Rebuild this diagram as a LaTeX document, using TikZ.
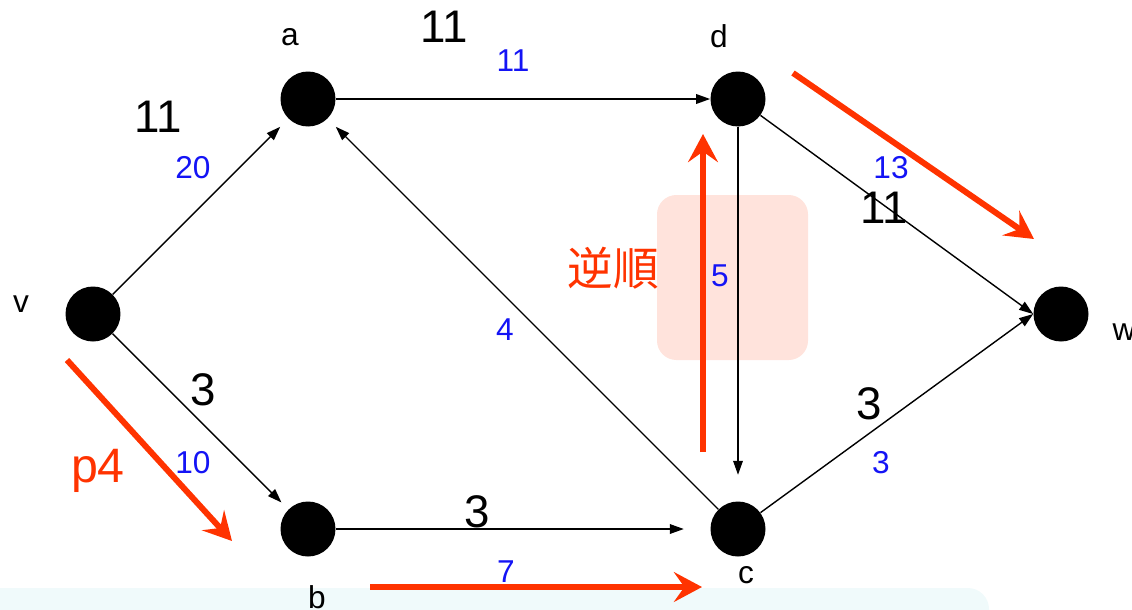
\documentclass[tikz,border=0pt]{standalone}
\usepackage{fontspec}
\setmainfont{Liberation Sans}
\newfontfamily\cjkfont{Noto Sans CJK JP}
\usepackage{xcolor}
\usetikzlibrary{arrows.meta}

\definecolor{augred}{HTML}{FF3300}
\definecolor{capblue}{HTML}{1414F5}
\definecolor{boxpink}{HTML}{FFE3DC}
\definecolor{panelblue}{HTML}{F0FAFB}

\begin{document}
\begin{tikzpicture}[
    x=0.02cm, y=-0.02cm,
    vertex/.style={circle, fill=black, minimum size=1.1cm, inner sep=0pt},
    vname/.style={font=\fontsize{18}{20}\selectfont, inner sep=0pt},
    capnum/.style={font=\fontsize{18}{20}\selectfont, text=capblue, inner sep=0pt},
    flownum/.style={font=\fontsize{26}{30}\selectfont, inner sep=0pt},
    link/.style={-{Triangle[length=8pt, width=5.5pt]}, line width=0.8pt},
    augarr/.style={-{Stealth[length=16pt, width=17pt, inset=6pt]}, line width=3.4pt, color=augred},
    note/.style={text=augred, inner sep=0pt},
]
\useasboundingbox (0,0) rectangle (1132,609);

% ── Backgrounds ───────────────────────────────────────
\fill[panelblue, rounded corners=12pt] (-30,588) rectangle (989,640);
\fill[boxpink, rounded corners=11pt] (657,195) rectangle (808,360);

% ── Vertices ──────────────────────────────────────────
\node[vertex] (v) at (93,314)   {};
\node[vertex] (a) at (308,99)   {};
\node[vertex] (d) at (738,99)   {};
\node[vertex] (w) at (1061,314) {};
\node[vertex] (b) at (308,529)  {};
\node[vertex] (c) at (738,529)  {};

\node[vname] (vlbl) at (21,304)   {v};
\node[vname] (albl) at (290,37)   {a};
\node[vname] (dlbl) at (719,36)   {d};
\node[vname] (wlbl) at (1124,332) {w};
\node[vname] (blbl) at (317,597)  {b};
\node[vname] (clbl) at (746,575)  {c};

% ── Edges ─────────────────────────────────────────────
\draw[link, shorten >=6.5pt] (v) -- (a);
\draw[link, shorten >=5.5pt] (v) -- (b);
\draw[link]                  (a) -- (d);
\draw[link]                  (d) -- (w.west);
\draw[link, shorten >=15pt]  (d) -- (c);
\draw[link, shorten >=6.5pt] (c) -- (a);
\draw[link, shorten >=15pt]  (b) -- (c);
\draw[link]                  (c) -- (w.west);

% ── Capacities (blue) ─────────────────────────────────
\node[capnum] (cva) at (193,168) {20};
\node[capnum] (cvb) at (193,463) {10};
\node[capnum] (cad) at (513,61)  {11};
\node[capnum] (cdw) at (891,168) {13};
\node[capnum] (cdc) at (720,276) {5};
\node[capnum] (cca) at (505,330) {4};
\node[capnum] (cbc) at (506,572) {7};
\node[capnum] (ccw) at (881,463) {3};

% ── Flows (black) ─────────────────────────────────────
\node[flownum] (fva) at (158,117) {11};
\node[flownum] (fvb) at (203,390) {3};
\node[flownum] (fad) at (444,27)  {11};
\node[flownum] (fdw) at (884,208) {11};
\node[flownum] (fbc) at (477,512) {3};
\node[flownum] (fcw) at (869,404) {3};

% ── Augmenting path p4 ────────────────────────────────
\coordinate (p1s) at (67,360);   \coordinate (p1e) at (232,541);
\coordinate (p2s) at (370,587);  \coordinate (p2e) at (702,587);
\coordinate (p3s) at (703,452);  \coordinate (p3e) at (703,134);
\coordinate (p4s) at (793,73);   \coordinate (p4e) at (1034,239);

\draw[augarr] (p1s) -- (p1e);
\draw[augarr] (p2s) -- (p2e);
\draw[augarr] (p3s) -- (p3e);
\draw[augarr] (p4s) -- (p4e);

\node[note, font=\fontsize{27.5}{30}\selectfont] (plbl) at (98,471) {p4};
\node[note, font=\cjkfont\fontsize{26}{30}\selectfont] (rev) at (613,268) {逆順};

\end{tikzpicture}
\end{document}
